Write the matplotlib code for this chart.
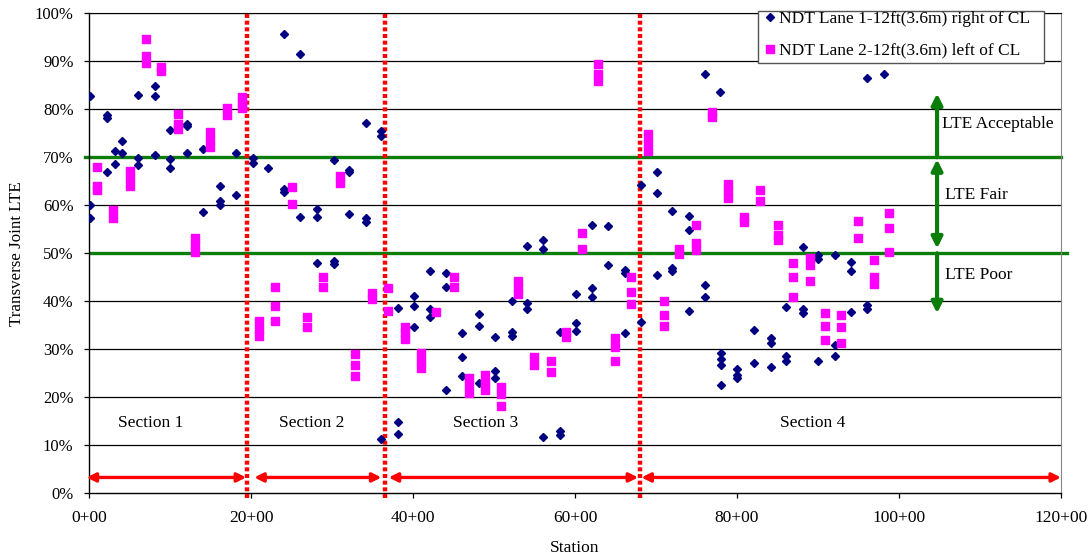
import matplotlib
matplotlib.use("Agg")
import matplotlib.pyplot as plt
from matplotlib.patches import Rectangle
from matplotlib.ticker import FixedLocator, FuncFormatter

plt.rcParams['font.family'] = ['Liberation Serif', 'DejaVu Serif']

# ---------------- data ----------------
lane1_station = [
    0.1, 0.1, 0.1, 2.2, 2.2, 2.2, 3.2, 3.2, 4.1, 4.1, 6.1, 6.1, 6.1,
    8.15, 8.15, 8.15, 10.0, 10.0, 10.0, 12.1, 12.1, 12.1, 14.1, 14.1,
    16.2, 16.2, 16.2, 18.1, 18.1,
    20.2, 20.2, 22.1, 24.1, 24.1, 24.1, 26.1, 26.1, 28.1, 28.1, 28.1,
    30.2, 30.2, 30.2, 32.1, 32.1, 32.1, 34.2, 34.2, 34.2, 36.1, 36.1, 36.1,
    38.1, 38.1, 38.1, 40.1, 40.1, 40.1, 42.1, 42.1, 42.1, 44.1, 44.1, 44.1,
    46.1, 46.1, 46.1, 48.1, 48.1, 48.1, 50.1, 50.1, 50.1, 52.2, 52.2, 52.2,
    54.1, 54.1, 54.1, 56.1, 56.1, 56.1, 58.1, 58.1, 58.1, 60.1, 60.1, 60.1,
    62.1, 62.1, 62.1, 64.1, 64.1, 66.2, 66.2, 66.2, 68.1, 68.1,
    70.1, 70.1, 70.1, 72.0, 72.0, 72.0, 74.1, 74.1, 74.1, 76.1, 76.1, 76.1,
    77.9, 78.0, 78.0, 78.0, 78.0, 80.0, 80.0, 80.0, 82.1, 82.1,
    84.2, 84.2, 84.2, 86.0, 86.0, 86.0, 88.1, 88.1, 88.1, 90.0, 90.0, 90.0,
    92.1, 92.1, 92.1, 94.1, 94.1, 94.1, 96.1, 96.1, 96.1, 98.1,
]
lane1_lte = [
    82.8, 60.1, 57.3, 78.8, 78.1, 67.0, 71.3, 68.6, 73.3, 70.8, 83.0, 69.9, 68.5,
    84.8, 82.8, 70.5, 75.6, 69.6, 67.8, 76.9, 76.5, 70.8, 71.7, 58.6,
    64.1, 60.8, 60.1, 70.8, 62.1,
    69.8, 68.9, 67.7, 95.75, 63.3, 62.8, 91.6, 57.6, 59.2, 57.6, 48.0,
    69.4, 48.5, 47.8, 67.4, 66.9, 58.1, 77.2, 57.3, 56.6, 75.5, 74.4, 11.3,
    38.7, 14.8, 12.4, 41.2, 39.1, 34.7, 46.3, 38.4, 36.8, 45.8, 43.0, 21.6,
    33.3, 28.5, 24.5, 37.4, 34.9, 23.0, 32.5, 25.5, 24.1, 40.1, 33.7, 32.8,
    51.5, 39.6, 38.4, 52.8, 51.0, 11.8, 33.7, 13.0, 12.1, 41.5, 35.4, 33.9,
    55.8, 42.8, 40.8, 55.7, 47.6, 46.5, 45.8, 33.3, 64.2, 35.75,
    66.9, 62.6, 45.5, 58.8, 46.9, 46.4, 57.8, 54.9, 38.0, 87.4, 43.5, 40.8,
    83.6, 29.2, 28.0, 26.7, 22.6, 26.0, 24.6, 24.0, 34.0, 27.1,
    32.3, 31.25, 26.4, 38.9, 28.6, 27.6, 51.4, 38.5, 37.6, 49.6, 48.75, 27.6,
    49.6, 30.9, 28.6, 48.25, 46.4, 37.7, 86.5, 39.2, 38.5, 87.4,
]

lane2_station = [
    0.95, 0.95, 0.95, 3.0, 3.0, 5.0, 5.0, 5.0, 7.0, 7.0, 7.0, 8.9, 8.9,
    10.95, 10.95, 10.95, 13.1, 13.1, 13.1, 14.9, 14.9, 14.9, 17.0, 17.0,
    18.9, 18.9, 18.9,
    21.0, 21.0, 21.0, 23.0, 23.0, 23.0, 25.0, 25.0, 26.9, 26.9, 28.9, 28.9,
    31.0, 31.0, 32.9, 32.9, 32.9, 34.9, 34.9, 36.9, 36.9,
    39.0, 39.0, 39.0, 40.95, 40.95, 40.95, 42.9, 45.1, 45.1,
    46.95, 46.95, 46.95, 48.9, 48.9, 48.9, 50.9, 50.9, 50.9,
    53.0, 53.0, 53.0, 54.9, 54.9, 57.0, 57.0, 58.9, 58.9, 60.9, 60.9,
    62.9, 62.9, 62.9, 64.9, 64.9, 64.9, 66.9, 66.9, 66.9,
    69.0, 69.0, 69.0, 71.0, 71.0, 71.0, 72.9, 72.9, 74.9, 74.9, 74.9,
    76.9, 76.9, 78.9, 78.9, 78.9, 80.9, 80.9, 82.9, 82.9, 85.0, 85.0, 85.0,
    86.9, 86.9, 86.9, 89.0, 89.0, 89.0, 90.9, 90.9, 90.9, 92.9, 92.9, 92.9,
    94.9, 94.9, 96.9, 96.9, 96.9, 98.8, 98.8, 98.8,
]
lane2_lte = [
    67.9, 64.0, 63.2, 59.0, 57.3, 67.1, 65.6, 64.1, 94.6, 91.1, 89.6, 88.9, 88.0,
    79.1, 77.0, 76.0, 53.2, 51.7, 50.3, 75.2, 73.7, 72.1, 80.3, 78.9,
    82.6, 81.3, 80.3,
    35.8, 34.2, 32.7, 43.0, 39.0, 35.9, 63.9, 60.3, 36.8, 34.7, 45.1, 43.0,
    66.1, 64.6, 29.0, 26.7, 24.4, 41.7, 40.4, 42.8, 38.0,
    34.7, 33.3, 32.1, 29.2, 27.6, 26.1, 37.7, 45.1, 43.0,
    24.1, 22.6, 21.0, 24.6, 23.0, 21.5, 22.2, 20.7, 18.25,
    44.2, 42.7, 41.5, 28.5, 26.7, 27.6, 25.3, 33.7, 32.5, 54.2, 51.0,
    89.4, 87.4, 86.0, 32.4, 30.5, 27.5, 45.0, 41.9, 39.4,
    74.8, 73.0, 71.4, 40.1, 37.1, 34.9, 50.9, 49.9, 56.0, 52.1, 50.7,
    79.5, 78.3, 64.4, 63.0, 61.6, 57.6, 56.6, 63.2, 61.0, 55.9, 53.8, 52.8,
    47.9, 45.0, 41.0, 49.0, 47.6, 44.2, 37.6, 34.9, 31.9, 37.1, 34.7, 31.25,
    56.8, 53.1, 48.6, 45.0, 43.6, 58.5, 55.3, 50.3,
]

section_bounds = [19.5, 36.5, 68.0]
lte_thresholds = [70, 50]
section_labels = ["Section 1", "Section 2", "Section 3", "Section 4"]
section_label_x = [7.6, 27.5, 49.0, 89.4]
x_ticks = [0, 20, 40, 60, 80, 100, 120]
x_tick_labels = ["0+00", "20+00", "40+00", "60+00", "80+00", "100+00", "120+00"]
y_ticks = list(range(0, 101, 10))
lane1_label = "NDT Lane 1-12ft(3.6m) right of CL"
lane2_label = "NDT Lane 2-12ft(3.6m) left of CL"

# ---------------- figure ----------------
W, H = 1092, 560
fig = plt.figure(figsize=(W/100, H/100), dpi=100)
ax = fig.add_axes([89/W, 1-493.3/H, (1061-89)/W, (493.3-13.3)/H])
ax.set_xlim(0, 120)
ax.set_ylim(0, 100)

FS = 12.5

# grid
for yv in y_ticks[1:]:
    ax.axhline(yv, color='black', lw=0.9, zorder=1)

# thresholds
green = '#0a7d0a'
ax.plot([-0.5, 120], [lte_thresholds[0]]*2, color=green, lw=2.4, zorder=2, clip_on=False)
ax.plot([0.3, 120.8], [lte_thresholds[1]]*2, color=green, lw=2.4, zorder=2, clip_on=False)

# section boundaries
for xb in section_bounds:
    ax.plot([xb, xb], [-1.0, 100], color='#ff0000', lw=3.2,
            linestyle=(0, (0.9, 0.6)), zorder=3, clip_on=False)

# section arrows
arrow_spans = [(-0.3, 19.4), (20.4, 36.1), (37.0, 67.8), (68.2, 120.0)]
for x0, x1 in arrow_spans:
    ax.annotate('', xy=(x1, 3.3), xytext=(x0, 3.3),
                arrowprops=dict(arrowstyle='<|-|>', color='#ff0000', lw=2.4,
                                mutation_scale=13, shrinkA=0, shrinkB=0),
                annotation_clip=False, zorder=4)

for lab, xl in zip(section_labels, section_label_x):
    ax.text(xl, 14.6, lab, ha='center', va='center', fontsize=FS, zorder=5)

# LTE arrows
ax.annotate('', xy=(104.7, 83.3), xytext=(104.7, 70.0),
            arrowprops=dict(arrowstyle='-|>', color=green, lw=3, mutation_scale=16,
                            shrinkA=0, shrinkB=0), zorder=4)
ax.annotate('', xy=(104.7, 51.0), xytext=(104.7, 69.6),
            arrowprops=dict(arrowstyle='<|-|>', color=green, lw=3, mutation_scale=16,
                            shrinkA=0, shrinkB=0), zorder=4)
ax.annotate('', xy=(104.7, 37.5), xytext=(104.7, 50.0),
            arrowprops=dict(arrowstyle='-|>', color=green, lw=3, mutation_scale=16,
                            shrinkA=0, shrinkB=0), zorder=4)
ax.text(105.3, 76.9, "LTE Acceptable", ha='left', va='center', fontsize=FS, zorder=5)
ax.text(105.7, 62.1, "LTE Fair", ha='left', va='center', fontsize=FS, zorder=5)
ax.text(105.7, 45.5, "LTE Poor", ha='left', va='center', fontsize=FS, zorder=5)

# data
ax.plot(lane1_station, lane1_lte, linestyle='none', marker='D', ms=4.3,
        color='#000080', mec='#000080', label=lane1_label, zorder=6)
ax.plot(lane2_station, lane2_lte, linestyle='none', marker='s', ms=6.3,
        color='#ff00ff', mec='#ff00ff', label=lane2_label, zorder=7)

# axes formatting
ax.xaxis.set_major_locator(FixedLocator(x_ticks))
ax.set_xticklabels(x_tick_labels)
ax.yaxis.set_major_locator(FixedLocator(y_ticks))
ax.yaxis.set_major_formatter(FuncFormatter(lambda v, p: f"{int(v)}%"))
ax.tick_params(axis='both', direction='out', length=3.8, width=0.9, colors='black')
ax.tick_params(axis='x', pad=8.5, labelsize=FS)
ax.tick_params(axis='y', pad=7.3, labelsize=12)
ax.spines['top'].set_color('black')
ax.spines['right'].set_color('#888888')
for s in ['left', 'bottom']:
    ax.spines[s].set_linewidth(1.0)
    ax.spines[s].set_color('black')

fig.text(575/W, 1-548/H, "Station", ha='center', va='center', fontsize=FS)
fig.text(17.3/W, 1-254/H, "Transverse Joint LTE", ha='center', va='center',
         rotation=90, fontsize=12.2)

# legend: framed box drawn separately (inside the axes' draw, below legend)
ax.add_patch(Rectangle((758/W, 1-63.3/H), (1044-758)/W, (63.3-10.7)/H,
                       transform=fig.transFigure, facecolor='white',
                       edgecolor='#555555', lw=1.0, zorder=9, clip_on=False))
leg = ax.legend(loc='upper left', bbox_to_anchor=(764.8/W, 1-10.5/H),
                bbox_transform=fig.transFigure, frameon=False, fontsize=FS,
                borderaxespad=0, borderpad=0, labelspacing=0.92,
                handlelength=0.6, handletextpad=0.22, markerscale=1.0)
leg.set_zorder(10)

fig.savefig("out.png", dpi=100)
